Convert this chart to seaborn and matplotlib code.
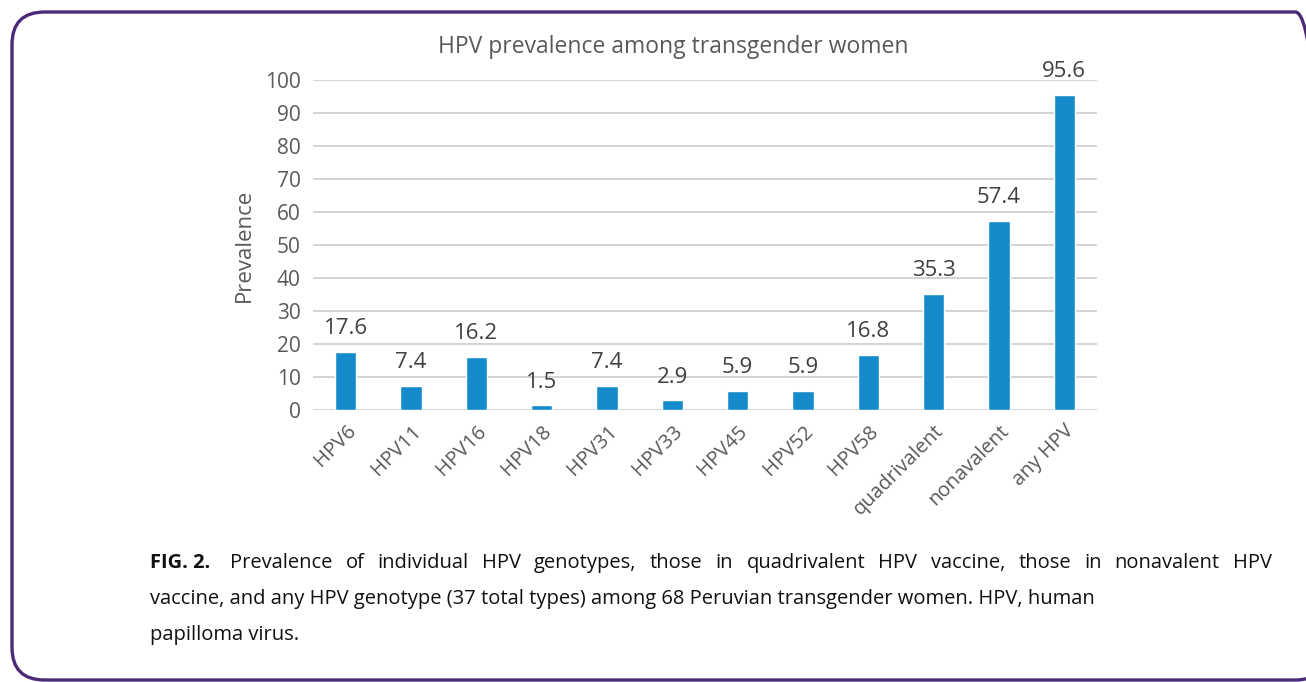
import matplotlib
matplotlib.use("Agg")
import matplotlib.pyplot as plt
import seaborn as sns
import pandas as pd
from matplotlib.patches import FancyBboxPatch

# Data
categories = ['HPV6', 'HPV11', 'HPV16', 'HPV18', 'HPV31', 'HPV33', 'HPV45',
              'HPV52', 'HPV58', 'quadrivalent', 'nonavalent', 'any HPV']
prevalence = [17.6, 7.4, 16.2, 1.5, 7.4, 2.9, 5.9, 5.9, 16.8, 35.3, 57.4, 95.6]
y_ticks = [0, 10, 20, 30, 40, 50, 60, 70, 80, 90, 100]

caption_lines = [
    "Prevalence of individual HPV genotypes, those in quadrivalent HPV vaccine, those in nonavalent HPV",
    "vaccine, and any HPV genotype (37 total types) among 68 Peruvian transgender women. HPV, human",
    "papilloma virus.",
]

df = pd.DataFrame({'category': categories, 'prevalence': prevalence})

sns.set_theme(style='white')
plt.rcParams['font.family'] = ['Open Sans', 'DejaVu Sans']

BAR_BLUE = '#168bcc'
GREY_TXT = '#595959'
CAP_SIZE = 14.5

fig = plt.figure(figsize=(13.06, 6.82), dpi=100)
W, H = 1306, 682

# plot area in pixels: x 313..1097, y 80..410
ax = fig.add_axes([313 / W, 1 - 410 / H, (1097 - 313) / W, (410 - 80) / H])

sns.barplot(data=df, x='category', y='prevalence', color=BAR_BLUE,
            width=0.33, saturation=1, ax=ax, zorder=3)

ax.set_ylim(0, 100)
ax.set_xlim(-0.5, len(categories) - 0.5)
ax.set_yticks(y_ticks)
ax.yaxis.grid(True, color='#d0d0d0', linewidth=1.3, zorder=0)
ax.xaxis.grid(False)
for s in ax.spines.values():
    s.set_visible(False)

ax.tick_params(axis='y', length=0, pad=9, labelsize=15, labelcolor=GREY_TXT)
ax.tick_params(axis='x', length=0, pad=8, labelsize=14.5, labelcolor=GREY_TXT)
plt.setp(ax.get_xticklabels(), rotation=45, ha='right', rotation_mode='anchor')

ax.set_xlabel('')
ax.set_ylabel('Prevalence', fontsize=16, color=GREY_TXT, labelpad=7)

ax.bar_label(ax.containers[0], labels=[f'{v:.1f}' for v in prevalence],
             padding=9, fontsize=16, color='#404040')

fig.text(673 / W, 1 - 47 / H, 'HPV prevalence among transgender women',
         ha='center', va='center', fontsize=16.5, color=GREY_TXT)

# caption, first line justified between x=230 and x=1272
fig.text(150 / W, 1 - 563 / H, 'FIG. 2.', fontsize=CAP_SIZE, fontweight='bold',
         color='#111111', ha='left', va='center')

renderer = fig.canvas.get_renderer()
words = caption_lines[0].split(' ')
word_artists = []
widths = []
for w in words:
    t = fig.text(0, 1 - 563 / H, w, fontsize=CAP_SIZE, color='#111111',
                 ha='left', va='center')
    word_artists.append(t)
    widths.append(t.get_window_extent(renderer).width)
x0, x1 = 230, 1272
gap = (x1 - x0 - sum(widths)) / (len(words) - 1)
xpos = x0
for t, wd in zip(word_artists, widths):
    t.set_x(xpos / W)
    xpos += wd + gap

fig.text(150 / W, 1 - 599 / H, caption_lines[1], fontsize=CAP_SIZE,
         color='#111111', ha='left', va='center')
fig.text(150 / W, 1 - 635 / H, caption_lines[2], fontsize=CAP_SIZE,
         color='#111111', ha='left', va='center')

# purple frame, right side running off the image
frame = FancyBboxPatch((12 / W, 1 - 680 / H), 1316 / W, 668 / H,
                       boxstyle='round,pad=0,rounding_size=0.025',
                       transform=fig.transFigure, fill=False,
                       edgecolor='#4b2a78', linewidth=2.4,
                       mutation_aspect=W / H)
fig.patches.append(frame)

fig.savefig('out.png', dpi=100)
